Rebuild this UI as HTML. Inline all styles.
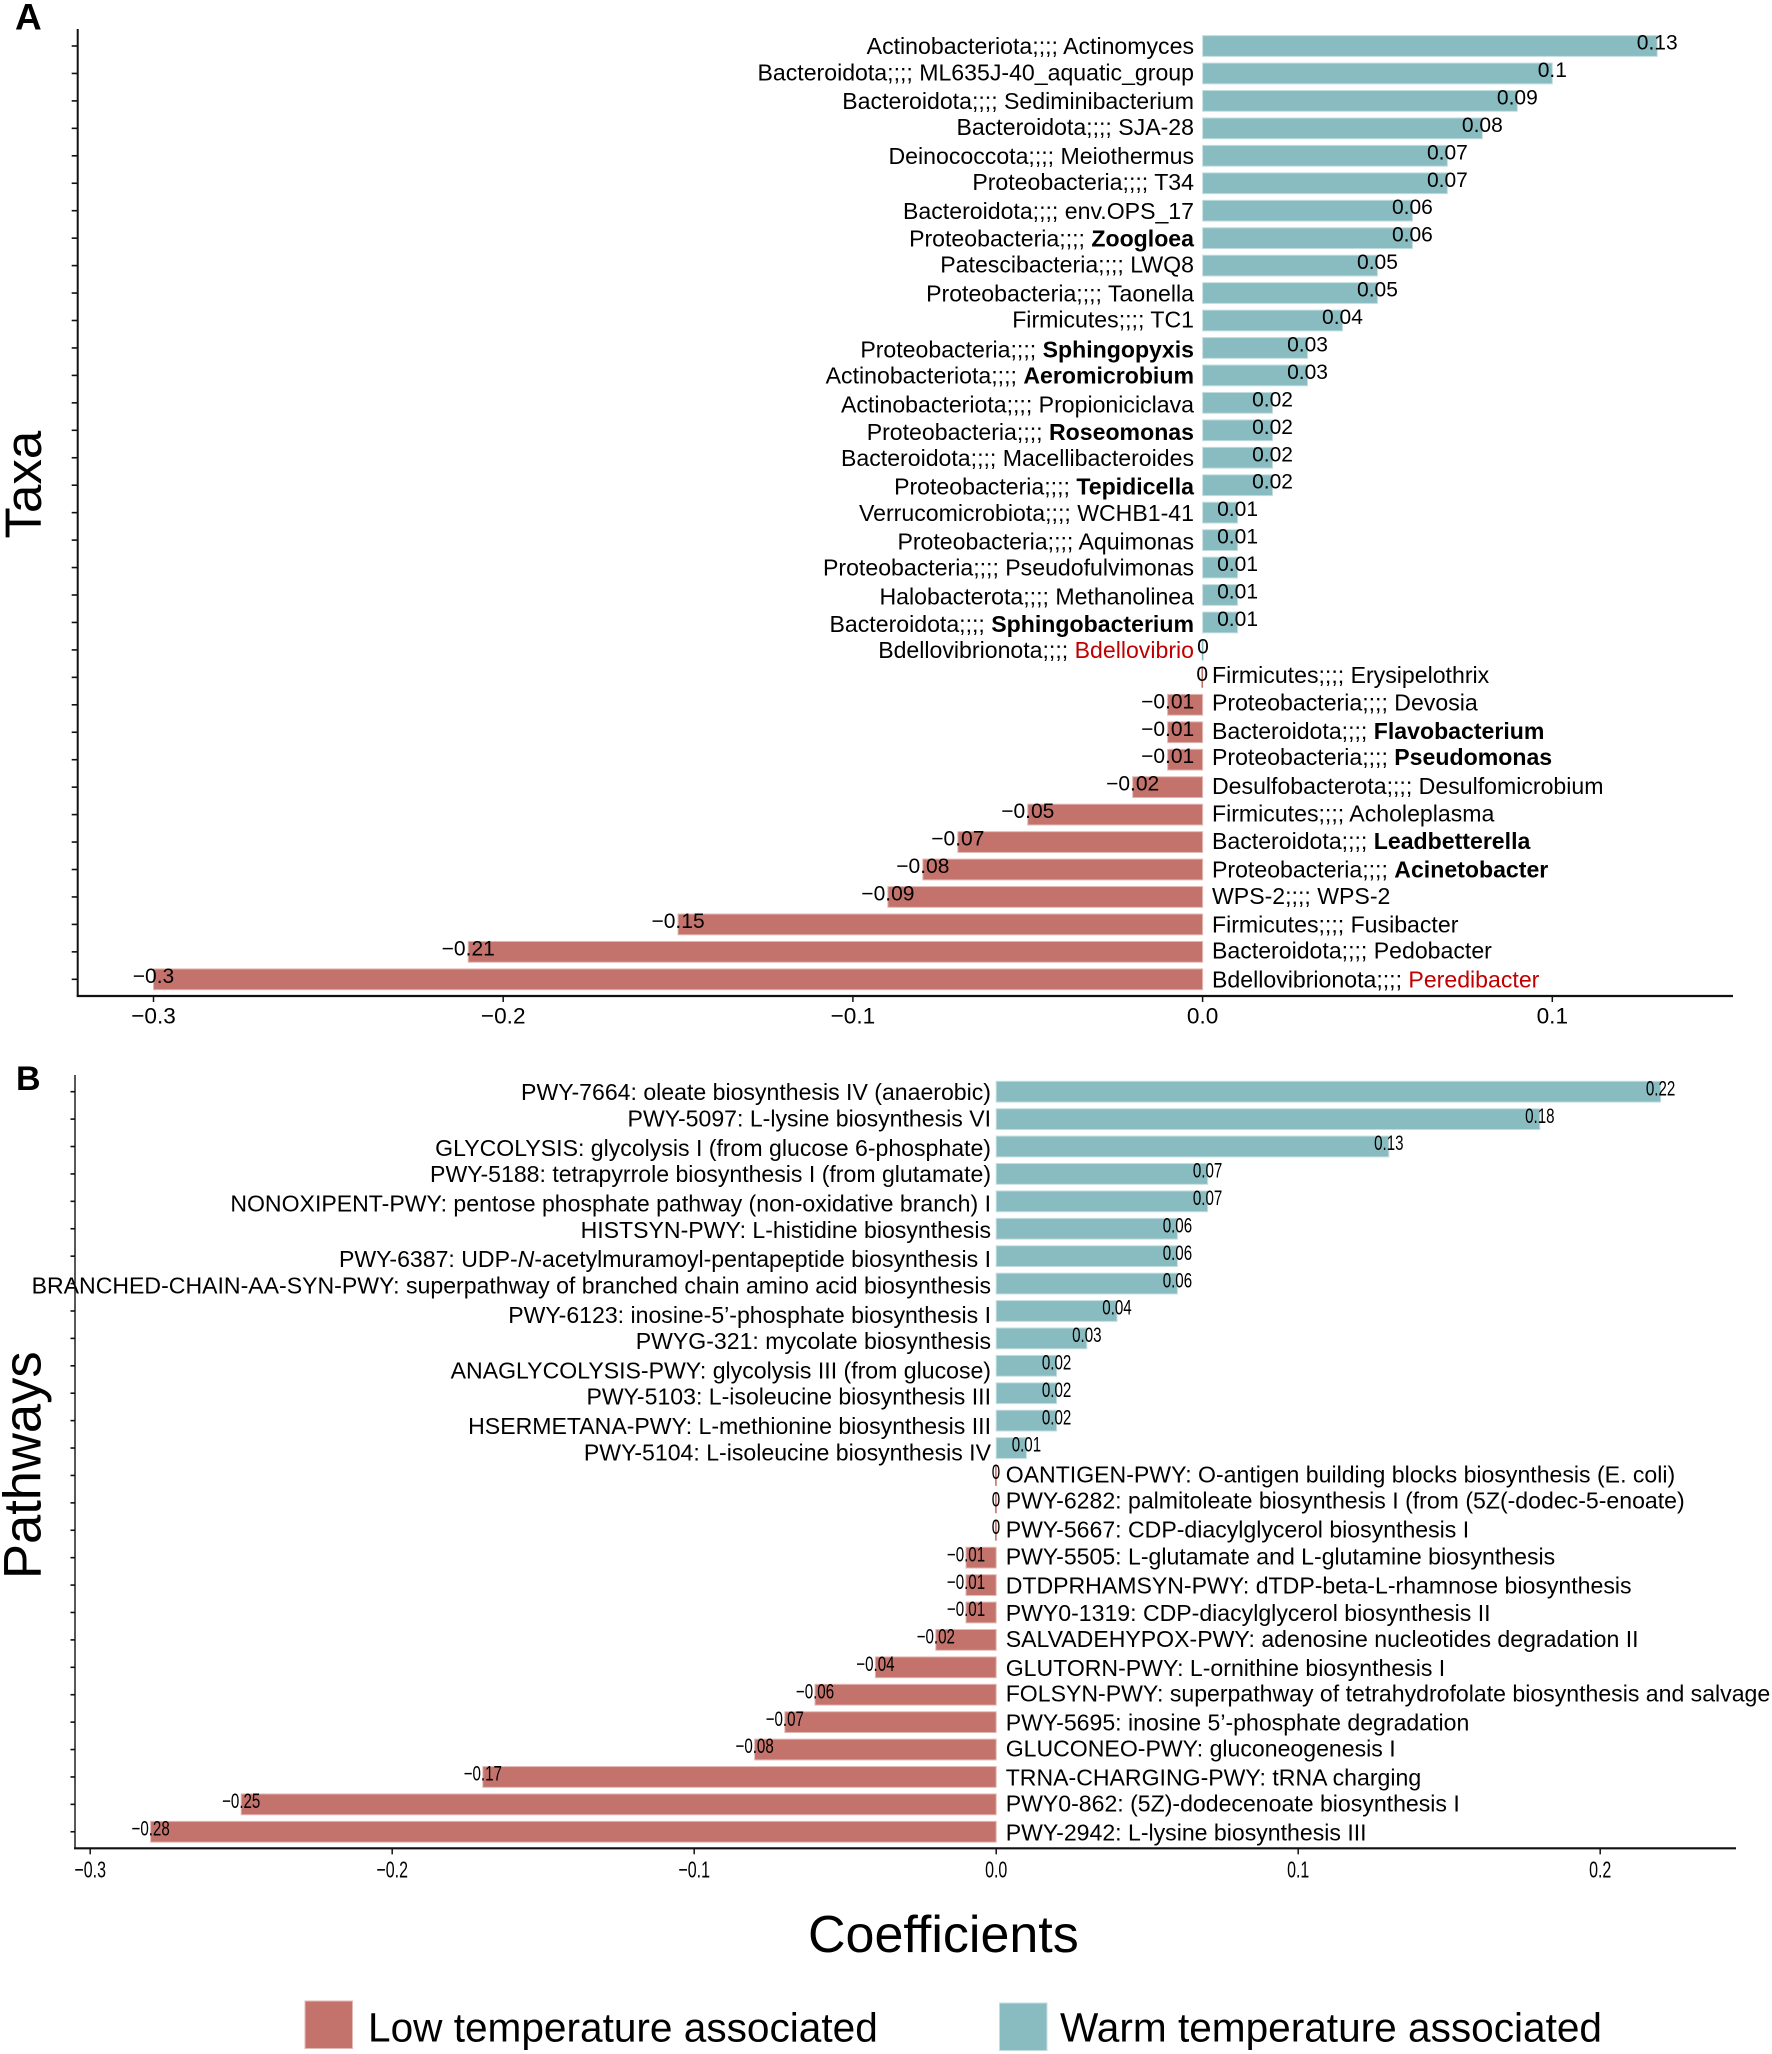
<!DOCTYPE html>
<html lang="en">
<head>
<meta charset="utf-8">
<title>Taxa and pathway coefficients</title>
<style>
html,body{margin:0;padding:0;background:#fff;}
svg{display:block;font-family:"Liberation Sans",Arial,sans-serif;fill:#000;}
</style>
</head>
<body>
<svg id="figure" xmlns="http://www.w3.org/2000/svg" width="1772" height="2054" viewBox="0 0 1772 2054">
  <rect x="0" y="0" width="1772" height="2054" fill="#fff"/>
  <text x="15" y="29.3" font-size="37" font-weight="700">A</text>
  <text x="16" y="1090" font-size="34" font-weight="700">B</text>
  <text transform="translate(41,538.5) rotate(-90)" font-size="51">Taxa</text>
  <text transform="translate(40.7,1579) rotate(-90)" font-size="52.5">Pathways</text>
  <g id="panel-a"></g>
  <g id="panel-b"></g>
  <text x="808" y="1952" font-size="52">Coefficients</text>
  <g>
    <rect x="305" y="2001" width="47.5" height="47.5" fill="#c4736c" stroke="#e3b9b5" stroke-width="1"/>
    <text x="368" y="2041.5" font-size="40.6">Low temperature associated</text>
    <rect x="999.5" y="2003" width="47.5" height="47.5" fill="#89bcc0" stroke="#c4dee0" stroke-width="1"/>
    <text x="1060" y="2041.5" font-size="40.6">Warm temperature associated</text>
  </g>
</svg>
<script>
var taxaLabels = [
  "Actinobacteriota;;;; Actinomyces",
  "Bacteroidota;;;; ML635J-40_aquatic_group",
  "Bacteroidota;;;; Sediminibacterium",
  "Bacteroidota;;;; SJA-28",
  "Deinococcota;;;; Meiothermus",
  "Proteobacteria;;;; T34",
  "Bacteroidota;;;; env.OPS_17",
  "Proteobacteria;;;; {b:Zoogloea}",
  "Patescibacteria;;;; LWQ8",
  "Proteobacteria;;;; Taonella",
  "Firmicutes;;;; TC1",
  "Proteobacteria;;;; {b:Sphingopyxis}",
  "Actinobacteriota;;;; {b:Aeromicrobium}",
  "Actinobacteriota;;;; Propioniciclava",
  "Proteobacteria;;;; {b:Roseomonas}",
  "Bacteroidota;;;; Macellibacteroides",
  "Proteobacteria;;;; {b:Tepidicella}",
  "Verrucomicrobiota;;;; WCHB1-41",
  "Proteobacteria;;;; Aquimonas",
  "Proteobacteria;;;; Pseudofulvimonas",
  "Halobacterota;;;; Methanolinea",
  "Bacteroidota;;;; {b:Sphingobacterium}",
  "Bdellovibrionota;;;; {r:Bdellovibrio}",
  "Firmicutes;;;; Erysipelothrix",
  "Proteobacteria;;;; Devosia",
  "Bacteroidota;;;; {b:Flavobacterium}",
  "Proteobacteria;;;; {b:Pseudomonas}",
  "Desulfobacterota;;;; Desulfomicrobium",
  "Firmicutes;;;; Acholeplasma",
  "Bacteroidota;;;; {b:Leadbetterella}",
  "Proteobacteria;;;; {b:Acinetobacter}",
  "WPS-2;;;; WPS-2",
  "Firmicutes;;;; Fusibacter",
  "Bacteroidota;;;; Pedobacter",
  "Bdellovibrionota;;;; {r:Peredibacter}"
];
var taxaValues = [0.13,0.1,0.09,0.08,0.07,0.07,0.06,0.06,0.05,0.05,0.04,0.03,0.03,0.02,0.02,0.02,0.02,0.01,0.01,0.01,0.01,0.01,0.0001,-0.0001,-0.01,-0.01,-0.01,-0.02,-0.05,-0.07,-0.08,-0.09,-0.15,-0.21,-0.3];
var taxaTicks = [-0.3,-0.2,-0.1,0,0.1];
var taxaTickLabels = ["\u22120.3","\u22120.2","\u22120.1","0.0","0.1"];

var pathwayLabels = [
  "PWY-7664: oleate biosynthesis IV (anaerobic)",
  "PWY-5097: L-lysine biosynthesis VI",
  "GLYCOLYSIS: glycolysis I (from glucose 6-phosphate)",
  "PWY-5188: tetrapyrrole biosynthesis I (from glutamate)",
  "NONOXIPENT-PWY: pentose phosphate pathway (non-oxidative branch) I",
  "HISTSYN-PWY: L-histidine biosynthesis",
  "PWY-6387: UDP-{i:N}-acetylmuramoyl-pentapeptide biosynthesis I",
  "BRANCHED-CHAIN-AA-SYN-PWY: superpathway of branched chain amino acid biosynthesis",
  "PWY-6123: inosine-5\u2019-phosphate biosynthesis I",
  "PWYG-321: mycolate biosynthesis",
  "ANAGLYCOLYSIS-PWY: glycolysis III (from glucose)",
  "PWY-5103: L-isoleucine biosynthesis III",
  "HSERMETANA-PWY: L-methionine biosynthesis III",
  "PWY-5104: L-isoleucine biosynthesis IV",
  "OANTIGEN-PWY: O-antigen building blocks biosynthesis (E. coli)",
  "PWY-6282: palmitoleate biosynthesis I (from (5Z(-dodec-5-enoate)",
  "PWY-5667: CDP-diacylglycerol biosynthesis I",
  "PWY-5505: L-glutamate and L-glutamine biosynthesis",
  "DTDPRHAMSYN-PWY: dTDP-beta-L-rhamnose biosynthesis",
  "PWY0-1319: CDP-diacylglycerol biosynthesis II",
  "SALVADEHYPOX-PWY: adenosine nucleotides degradation II",
  "GLUTORN-PWY: L-ornithine biosynthesis I",
  "FOLSYN-PWY: superpathway of tetrahydrofolate biosynthesis and salvage",
  "PWY-5695: inosine 5\u2019-phosphate degradation",
  "GLUCONEO-PWY: gluconeogenesis I",
  "TRNA-CHARGING-PWY: tRNA charging",
  "PWY0-862: (5Z)-dodecenoate biosynthesis I",
  "PWY-2942: L-lysine biosynthesis III"
];
var pathwayValues = [0.22,0.18,0.13,0.07,0.07,0.06,0.06,0.06,0.04,0.03,0.02,0.02,0.02,0.01,-0.0001,-0.0001,-0.0001,-0.01,-0.01,-0.01,-0.02,-0.04,-0.06,-0.07,-0.08,-0.17,-0.25,-0.28];
var pathwayTicks = [-0.3,-0.2,-0.1,0,0.1,0.2];
var pathwayTickLabels = ["\u22120.3","\u22120.2","\u22120.1","0.0","0.1","0.2"];

var NS = "http://www.w3.org/2000/svg";
var WARM = "#89bcc0", LOW = "#c4736c", WARM_EDGE = "#c4dee0", LOW_EDGE = "#e3b9b5";

function xA(v){ return 1202.6 + v * 3497; }
function yA(i){ return 46 + i * 27.45; }
function xB(v){ return 996.2 + v * 3020; }
function yB(i){ return 1091.7 + i * 27.41; }

function labelOffsetA(i){
  var off = ((i + Math.floor(i / 7)) % 2 === 0) ? 8.2 : 6.8;
  if (i >= 11 && i <= 22) off += 1.3;
  if (i >= 23 && i <= 28) off -= 1.3;
  if (i === 23) off -= 1.3;
  return off;
}
function labelOffsetB(i){
  if (i <= 13) return (i % 2 === 0 ? 8.5 : 7) + 0.41 * i;
  var off = ((i + Math.floor(i / 7)) % 2 === 0) ? 8.5 : 7;
  if (i < 17) off -= 1.3;
  if (i === 19) off += 1.3;
  if (i === 20) off -= 1.3;
  return off;
}

function make(tag, parent){
  var el = document.createElementNS(NS, tag);
  parent.appendChild(el);
  return el;
}
function setAll(el, pairs){
  for (var k in pairs) el.setAttribute(k, pairs[k]);
}
function fillLabel(textEl, label){
  var re = /\{([bri]):([^}]*)\}/g, last = 0, m;
  while ((m = re.exec(label))) {
    if (m.index > last) make("tspan", textEl).textContent = label.slice(last, m.index);
    var ts = make("tspan", textEl);
    ts.textContent = m[2];
    if (m[1] === "b") ts.setAttribute("font-weight", "700");
    if (m[1] === "r") ts.setAttribute("fill", "#c00000");
    if (m[1] === "i") ts.setAttribute("font-style", "italic");
    last = re.lastIndex;
  }
  if (last < label.length) make("tspan", textEl).textContent = label.slice(last);
}
function printed(v){
  var r = Math.round(v * 100) / 100;
  if (r === 0) return "0";
  return String(r).replace("-", "\u2212");
}

function drawPanel(cfg){
  var root = document.getElementById(cfg.id);
  var n = cfg.values.length, i;

  for (i = 0; i < n; i++) {
    var v = cfg.values[i];
    var x0 = cfg.x(0), x1 = cfg.x(v);
    var w = Math.abs(x1 - x0);
    var thin = w < 1.6;
    var bar = make("rect", root);
    
    
    setAll(bar, {
      x: thin ? Math.min(x0, x1) - 0.8 : Math.min(x0, x1),
      y: cfg.y(i) - 10.4,
      width: thin ? 1.6 : w,
      height: 20.8,
      fill: v >= 0 ? WARM : LOW,
      stroke: thin ? "none" : (v >= 0 ? WARM_EDGE : LOW_EDGE),
      "stroke-width": 1
    });
  }

  for (i = 0; i < n; i++) {
    var tick = make("line", root);
    
    
    setAll(tick, { x1: cfg.axisX - cfg.yTickLen, x2: cfg.axisX, y1: cfg.y(i), y2: cfg.y(i), stroke: "#111", "stroke-width": 1.6 });
  }

  for (i = 0; i < n; i++) {
    var pos = cfg.values[i] >= 0;
    var lbl = make("text", root);
    
    
    setAll(lbl, {
      x: pos ? cfg.leftEnd : cfg.rightStart,
      y: cfg.y(i) + cfg.labelOffset(i),
      "font-size": cfg.labelSize,
      "text-anchor": pos ? "end" : "start"
    });
    fillLabel(lbl, cfg.labels[i]);
  }

  for (i = 0; i < n; i++) {
    var val = make("text", root);
    
    
    setAll(val, {
      transform: "translate(" + cfg.x(cfg.values[i]) + "," + (cfg.y(i) + cfg.valOff) + ") scale(" + cfg.valScale + ",1)",
      "font-size": cfg.valSize,
      "text-anchor": "middle"
    });
    val.textContent = printed(cfg.values[i]);
  }

  var yAxis = make("line", root);
  
  
  setAll(yAxis, { x1: cfg.axisX, x2: cfg.axisX, y1: cfg.axisTop, y2: cfg.axisY, stroke: "#111", "stroke-width": cfg.yAxisW });

  var xAxis = make("line", root);
  
  
  setAll(xAxis, { x1: cfg.axisX - 1, x2: cfg.axisEnd, y1: cfg.axisY, y2: cfg.axisY, stroke: "#111", "stroke-width": 2.2 });

  for (i = 0; i < cfg.ticks.length; i++) {
    var xt = make("line", root);
    
    
    setAll(xt, { x1: cfg.x(cfg.ticks[i]), x2: cfg.x(cfg.ticks[i]), y1: cfg.axisY, y2: cfg.axisY + 6, stroke: "#111", "stroke-width": 1.5 });
    var tl = make("text", root);
    
    
    setAll(tl, {
      transform: "translate(" + cfg.x(cfg.ticks[i]) + "," + cfg.tickBase + ") scale(" + cfg.tickScale + ",1)",
      "font-size": cfg.tickSize,
      "text-anchor": "middle"
    });
    tl.textContent = cfg.tickLabels[i];
  }
}

drawPanel({
  id: "panel-a", labels: taxaLabels, values: taxaValues, ticks: taxaTicks, tickLabels: taxaTickLabels,
  x: xA, y: yA, axisX: 77.7, axisTop: 29, axisY: 996, axisEnd: 1733, yTickLen: 6, yAxisW: 2,
  leftEnd: 1194, rightStart: 1212, labelSize: 23.1, labelOffset: labelOffsetA,
  valSize: 21, valScale: 1, valOff: 3.5, tickSize: 22.6, tickScale: 1, tickBase: 1023.7
});
drawPanel({
  id: "panel-b", labels: pathwayLabels, values: pathwayValues, ticks: pathwayTicks, tickLabels: pathwayTickLabels,
  x: xB, y: yB, axisX: 75, axisTop: 1075, axisY: 1848.3, axisEnd: 1736, yTickLen: 4.5, yAxisW: 1.4,
  leftEnd: 991, rightStart: 1005.7, labelSize: 23.08, labelOffset: labelOffsetB,
  valSize: 21, valScale: 0.72, valOff: 3.7, tickSize: 22.8, tickScale: 0.7, tickBase: 1877.7
});
</script>
</body>
</html>
